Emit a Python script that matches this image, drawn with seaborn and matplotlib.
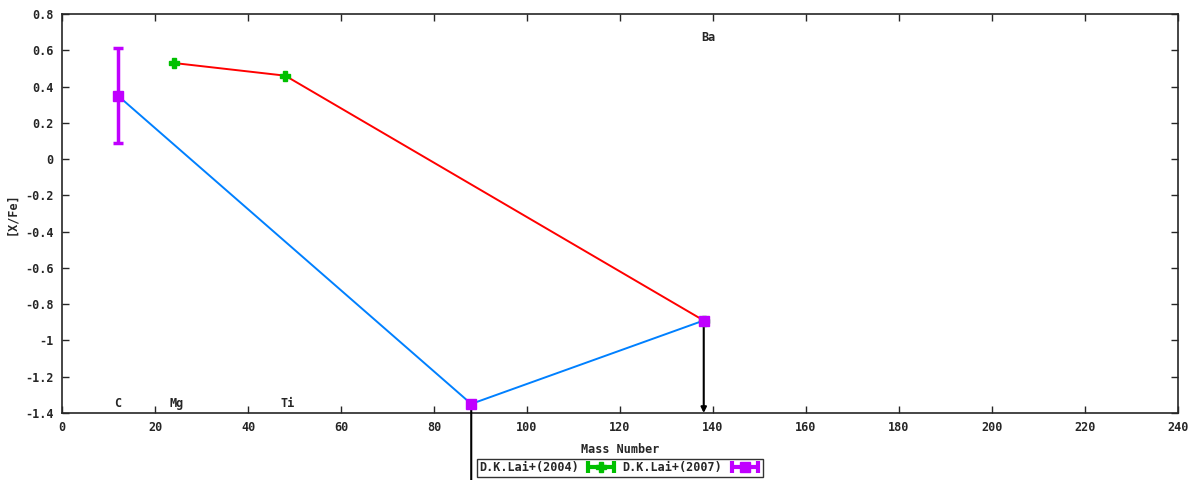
import numpy as np
import pandas as pd
import matplotlib
matplotlib.use("Agg")
import matplotlib.pyplot as plt
import seaborn as sns
from matplotlib.lines import Line2D
from matplotlib.legend_handler import HandlerLine2D, HandlerTuple
from matplotlib.ticker import FuncFormatter, MultipleLocator

# D.K.Lai+(2004)
lai04_mass = [24, 48, 138]
lai04_xfe = [0.53, 0.46, -0.89]
lai04_err = [0.0, 0.0, 0.0]

# D.K.Lai+(2007)
lai07_mass = [12, 88, 138]
lai07_xfe = [0.35, -1.35, -0.89]
lai07_err = [0.26, 0.0, 0.0]

# upper limits (arrows)
limit_mass = [88, 138]
limit_from = [-1.35, -0.89]
limit_to = [-1.86, -1.40]

# element labels
elem_names = ["C", "Mg", "Ti", "Ba"]
elem_mass = [12, 24.7, 48.6, 138.9]
elem_y = [-1.35, -1.35, -1.35, 0.67]

GREEN = "#00c000"
PURPLE = "#c000ff"
RED = "#ff0000"
BLUE = "#0080ff"

sns.set_style("ticks")
plt.rcParams['font.family'] = ['DejaVu Sans Mono', 'DejaVu Sans']
plt.rcParams['font.weight'] = 'bold'
plt.rcParams['font.size'] = 8.5

fig = plt.figure(figsize=(12, 4.8), dpi=100)
ax = fig.add_axes([0.0517, 0.1396, 0.9300, 0.8312])

df04 = pd.DataFrame({"mass": lai04_mass, "xfe": lai04_xfe})
df07 = pd.DataFrame({"mass": lai07_mass, "xfe": lai07_xfe})

sns.lineplot(data=df04, x="mass", y="xfe", color=RED, lw=1.4, sort=False, ax=ax, zorder=2)
sns.lineplot(data=df07, x="mass", y="xfe", color=BLUE, lw=1.4, sort=False, ax=ax, zorder=2)

ax.errorbar(lai04_mass, lai04_xfe, yerr=lai04_err, fmt="P", color=GREEN, ms=7,
            mec=GREEN, elinewidth=2.5, capsize=3.5, capthick=2.5, zorder=3)
ax.errorbar(lai07_mass, lai07_xfe, yerr=lai07_err, fmt="s", color=PURPLE, ms=7,
            mec=PURPLE, elinewidth=2.5, capsize=3.5, capthick=2.5, zorder=4)

for m, y0, y1 in zip(limit_mass, limit_from, limit_to):
    ax.annotate("", xy=(m, y1), xytext=(m, y0), annotation_clip=False,
                arrowprops=dict(arrowstyle="-|>", color="black", lw=1.5,
                                mutation_scale=8, shrinkA=0, shrinkB=0))

for name, m, y in zip(elem_names, elem_mass, elem_y):
    ax.text(m, y, name, ha="center", va="center", fontsize=8.5, fontweight="bold")

ax.set_xlim(0, 240)
ax.set_ylim(-1.4, 0.8)
ax.xaxis.set_major_locator(MultipleLocator(20))
ax.yaxis.set_major_locator(MultipleLocator(0.2))
fmt = FuncFormatter(lambda v, p: "%g" % round(v, 2))
ax.xaxis.set_major_formatter(fmt)
ax.yaxis.set_major_formatter(fmt)
ax.tick_params(direction="in", top=True, right=True, length=5, width=1, labelsize=8.5, pad=6)
for s in ax.spines.values():
    s.set_linewidth(1.2)
    s.set_visible(True)

ax.set_xlabel("Mass Number", fontsize=8.5, fontweight="bold", labelpad=6)
ax.set_ylabel("[X/Fe]", fontsize=8.5, fontweight="bold", labelpad=5)

# gnuplot-style key samples: horizontal error bar with caps and a point in the middle
handles, hmap = [], {}
for col, mk in [(GREEN, "P"), (PURPLE, "s")]:
    bar = Line2D([], [], color=col, lw=3, marker="|", ms=9, mew=3)
    pt = Line2D([], [], color=col, lw=0, marker=mk, ms=7, mec=col)
    hmap[bar] = HandlerLine2D(numpoints=2)
    hmap[pt] = HandlerLine2D(numpoints=1)
    handles.append((bar, pt))
hmap[tuple] = HandlerTuple(ndivide=1, pad=0)

leg = fig.legend(handles=handles, labels=["D.K.Lai+(2004)", "D.K.Lai+(2007)"],
                 handler_map=hmap, loc="center",
                 bbox_to_anchor=(620 / 1200, 1 - 468 / 480), ncol=2, markerfirst=False,
                 frameon=True, fancybox=False, handlelength=2.8, handletextpad=0.5,
                 columnspacing=0.4, borderpad=0.2, borderaxespad=0, fontsize=8.5)
leg.get_frame().set_edgecolor("black")
leg.get_frame().set_linewidth(1.0)

fig.savefig("out.png", dpi=100)
